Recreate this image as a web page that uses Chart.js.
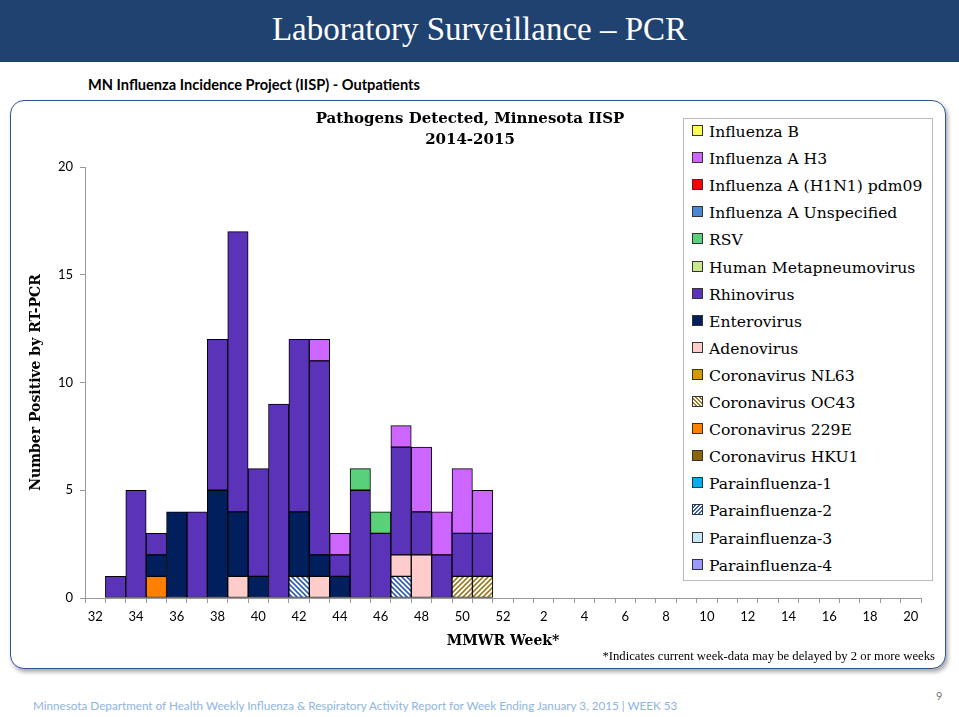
<!DOCTYPE html>
<html>
<head>
<meta charset="utf-8">
<script src="https://cdn.jsdelivr.net/npm/chart.js@4.4.1/dist/chart.umd.min.js"></script>
<style>
  html, body { margin: 0; padding: 0; background: #fff; }
  body { width: 959px; height: 717px; position: relative; overflow: hidden; }
  #band { position: absolute; left: 0; top: 0; width: 959px; height: 62px; background: #1f4270; }
  #band h1 { margin: 0; position: absolute; left: 0; width: 959px; top: 9px; text-align: center; color: #fff;
    font-family: "Liberation Serif", serif; font-weight: normal; font-size: 33px; line-height: 40px; }
  #sub { position: absolute; left: 88px; top: 76px; font-family: Lato, sans-serif; font-weight: bold; font-size: 14.6px; color: #000; }
  #box { position: absolute; left: 10px; top: 100px; width: 934px; height: 567px; border: 1.5px solid #2f5597;
    border-radius: 14px; box-shadow: 2px 3px 4px rgba(0,0,0,0.35); background: #fff; }
  #chartWrap { position: absolute; left: 10px; top: 100px; width: 936px; height: 569px; }
  #ctitle { position: absolute; left: 270px; width: 400px; top: 108px; text-align: center; font-family: "DejaVu Serif", serif;
    font-weight: bold; font-size: 15px; line-height: 21px; color: #000; }
  #legend { position: absolute; left: 683px; top: 118px; width: 248px; height: 461px; border: 1px solid #bbb; background: #fff; }
  .li { position: absolute; left: 8px; height: 20px; font-family: "DejaVu Serif", serif; font-size: 15.6px; line-height: 20px; color: #000; white-space: nowrap; }
  .sw { display: inline-block; width: 9px; height: 9px; border: 1px solid #333; margin-right: 6px; vertical-align: 1px; }
  #foot { position: absolute; right: 24px; top: 649px; font-family: "Liberation Serif", serif; font-size: 12.7px; color: #000; }
  #footer { position: absolute; left: 33px; top: 698px; font-family: Lato, sans-serif; font-size: 11.7px; color: #8eb4e3; }
  #pnum { position: absolute; left: 936px; top: 689px; font-family: Lato, sans-serif; font-size: 11px; color: #777; }
</style>
</head>
<body>
<div id="band"><h1>Laboratory Surveillance – PCR</h1></div>
<div id="sub">MN Influenza Incidence Project (IISP) - Outpatients</div>
<div id="box"></div>
<div id="chartWrap"><canvas id="c" width="936" height="569"></canvas></div>
<div id="ctitle">Pathogens Detected, Minnesota IISP<br>2014-2015</div>
<div id="legend"></div>
<div id="foot">*Indicates current week-data may be delayed by 2 or more weeks</div>
<div id="footer">Minnesota Department of Health Weekly Influenza &amp; Respiratory Activity Report for Week Ending January 3, 2015 | WEEK 53</div>
<div id="pnum">9</div>
<script>
// MMWR weeks (categories)
const weeks = [32,33,34,35,36,37,38,39,40,41,42,43,44,45,46,47,48,49,50,51,52,1,2,3,4,5,6,7,8,9,10,11,12,13,14,15,16,17,18,19,20];

// Series values, one per week (legend order)
const influenzaB      = [0,0,0,0,0,0,0,0,0,0,0,0,0,0,0,0,0,0,0,0,0,0,0,0,0,0,0,0,0,0,0,0,0,0,0,0,0,0,0,0,0];
const influenzaAH3    = [0,0,0,0,0,0,0,0,0,0,0,1,1,0,0,1,3,2,3,2,0,0,0,0,0,0,0,0,0,0,0,0,0,0,0,0,0,0,0,0,0];
const influenzaAH1N1  = [0,0,0,0,0,0,0,0,0,0,0,0,0,0,0,0,0,0,0,0,0,0,0,0,0,0,0,0,0,0,0,0,0,0,0,0,0,0,0,0,0];
const influenzaAUnsp  = [0,0,0,0,0,0,0,0,0,0,0,0,0,0,0,0,0,0,0,0,0,0,0,0,0,0,0,0,0,0,0,0,0,0,0,0,0,0,0,0,0];
const rsv             = [0,0,0,0,0,0,0,0,0,0,0,0,0,1,1,0,0,0,0,0,0,0,0,0,0,0,0,0,0,0,0,0,0,0,0,0,0,0,0,0,0];
const hmpv            = [0,0,0,0,0,0,0,0,0,0,0,0,0,0,0,0,0,0,0,0,0,0,0,0,0,0,0,0,0,0,0,0,0,0,0,0,0,0,0,0,0];
const rhinovirus      = [0,1,5,1,0,4,7,13,5,9,8,9,1,5,3,5,2,2,2,2,0,0,0,0,0,0,0,0,0,0,0,0,0,0,0,0,0,0,0,0,0];
const enterovirus     = [0,0,0,1,4,0,5,3,1,0,3,1,1,0,0,0,0,0,0,0,0,0,0,0,0,0,0,0,0,0,0,0,0,0,0,0,0,0,0,0,0];
const adenovirus      = [0,0,0,0,0,0,0,1,0,0,0,1,0,0,0,1,2,0,0,0,0,0,0,0,0,0,0,0,0,0,0,0,0,0,0,0,0,0,0,0,0];
const coronaNL63      = [0,0,0,0,0,0,0,0,0,0,0,0,0,0,0,0,0,0,0,0,0,0,0,0,0,0,0,0,0,0,0,0,0,0,0,0,0,0,0,0,0];
const coronaOC43      = [0,0,0,0,0,0,0,0,0,0,0,0,0,0,0,0,0,0,1,1,0,0,0,0,0,0,0,0,0,0,0,0,0,0,0,0,0,0,0,0,0];
const corona229E      = [0,0,0,1,0,0,0,0,0,0,0,0,0,0,0,0,0,0,0,0,0,0,0,0,0,0,0,0,0,0,0,0,0,0,0,0,0,0,0,0,0];
const coronaHKU1      = [0,0,0,0,0,0,0,0,0,0,0,0,0,0,0,0,0,0,0,0,0,0,0,0,0,0,0,0,0,0,0,0,0,0,0,0,0,0,0,0,0];
const parainfluenza1  = [0,0,0,0,0,0,0,0,0,0,0,0,0,0,0,0,0,0,0,0,0,0,0,0,0,0,0,0,0,0,0,0,0,0,0,0,0,0,0,0,0];
const parainfluenza2  = [0,0,0,0,0,0,0,0,0,0,1,0,0,0,0,1,0,0,0,0,0,0,0,0,0,0,0,0,0,0,0,0,0,0,0,0,0,0,0,0,0];
const parainfluenza3  = [0,0,0,0,0,0,0,0,0,0,0,0,0,0,0,0,0,0,0,0,0,0,0,0,0,0,0,0,0,0,0,0,0,0,0,0,0,0,0,0,0];
const parainfluenza4  = [0,0,0,0,0,0,0,0,0,0,0,0,0,0,0,0,0,0,0,0,0,0,0,0,0,0,0,0,0,0,0,0,0,0,0,0,0,0,0,0,0];

const seriesNames = ['Influenza B','Influenza A H3','Influenza A (H1N1) pdm09','Influenza A Unspecified','RSV',
  'Human Metapneumovirus','Rhinovirus','Enterovirus','Adenovirus','Coronavirus NL63','Coronavirus OC43',
  'Coronavirus 229E','Coronavirus HKU1','Parainfluenza-1','Parainfluenza-2','Parainfluenza-3','Parainfluenza-4'];
const seriesValues = [influenzaB, influenzaAH3, influenzaAH1N1, influenzaAUnsp, rsv, hmpv, rhinovirus, enterovirus,
  adenovirus, coronaNL63, coronaOC43, corona229E, coronaHKU1, parainfluenza1, parainfluenza2, parainfluenza3, parainfluenza4];
const seriesColors = ['#ffff55','#cc66ff','#ff0000','#4a86d8','#5ad07a','#c8e68a','#5a33b8','#001f5c','#ffcccc',
  '#d69a00','hatch:#9c7a22:1','#ff8000','#8b6508','#00b0f0','hatch:#2e5cb8:-1','#c6e6fa','#9999ff'];

function makeHatch(fg, dir) {
  const c = document.createElement('canvas'); c.width = 5; c.height = 5;
  const g = c.getContext('2d');
  g.fillStyle = '#fff'; g.fillRect(0, 0, 5, 5);
  g.strokeStyle = fg; g.lineWidth = 1.6;
  g.beginPath();
  if (dir > 0) {
    g.moveTo(-1, 6); g.lineTo(6, -1);
    g.moveTo(-1, 1); g.lineTo(1, -1);
    g.moveTo(4, 6); g.lineTo(6, 4);
  } else {
    g.moveTo(-1, -1); g.lineTo(6, 6);
    g.moveTo(-1, 4); g.lineTo(1, 6);
    g.moveTo(4, -1); g.lineTo(6, 1);
  }
  g.stroke();
  return g.createPattern(c, 'repeat');
}
function fillFor(spec) {
  if (spec.startsWith('hatch:')) { const p = spec.split(':'); return makeHatch(p[1], +p[2]); }
  return spec;
}
function cssFor(spec) {
  if (spec.startsWith('hatch:')) {
    const p = spec.split(':');
    const ang = +p[2] > 0 ? '45deg' : '-45deg';
    return 'repeating-linear-gradient(' + ang + ', #fff 0 1.5px, ' + p[1] + ' 1.5px 3px)';
  }
  return spec;
}

// Stack from bottom: reverse of legend order
const datasets = [];
for (let i = seriesNames.length - 1; i >= 0; i--) {
  datasets.push({
    label: seriesNames[i],
    data: seriesValues[i].map(v => v === 0 ? null : v),
    backgroundColor: fillFor(seriesColors[i]),
    borderColor: '#000',
    borderWidth: 1,
    borderSkipped: false,
    barPercentage: 1.0,
    categoryPercentage: 1.0,
    stack: 's'
  });
}

const chart = new Chart(document.getElementById('c'), {
  type: 'bar',
  data: { labels: weeks.map(String), datasets },
  options: {
    responsive: false,
    animation: false,
    layout: { padding: { left: 10, right: 25, top: 67, bottom: 11 } },
    plugins: { legend: { display: false }, title: { display: false }, tooltip: { enabled: false } },
    scales: {
      x: {
        stacked: true,
        offset: true,
        grid: { display: true, offset: true, drawOnChartArea: false, drawTicks: true, tickLength: 5, color: '#999' },
        border: { display: true, color: '#999' },
        ticks: {
          autoSkip: false, maxRotation: 0, padding: 6, color: '#000',
          font: { family: 'Lato, sans-serif', size: 13 },
          callback: (v, idx) => idx % 2 === 0 ? String(weeks[idx]) : ''
        },
        title: { display: true, text: 'MMWR Week*', color: '#000', padding: { top: 6, bottom: 8 },
          font: { family: '"DejaVu Serif", serif', size: 14, weight: 'bold' } },
        afterFit: s => { s.height = 60; }
      },
      y: {
        stacked: true,
        min: 0, max: 20,
        grid: { display: true, drawOnChartArea: false, drawTicks: true, tickLength: 5, color: '#999' },
        border: { display: true, color: '#999' },
        ticks: { stepSize: 5, padding: 7, color: '#000', font: { family: 'Lato, sans-serif', size: 13 } },
        title: { display: true, text: 'Number Positive by RT-PCR', color: '#000', padding: { top: 8, bottom: 4 },
          font: { family: '"DejaVu Serif", serif', size: 14, weight: 'bold' } },
        afterFit: s => { s.width = 65; }
      }
    }
  }
});

// HTML legend built from the chart's datasets (legend order = reversed stack order)
const leg = document.getElementById('legend');
const ds = chart.data.datasets.slice().reverse();
ds.forEach((d, k) => {
  const idx = seriesNames.indexOf(d.label);
  const el = document.createElement('div');
  el.className = 'li';
  el.style.top = (3 + k * 27.1) + 'px';
  const sw = document.createElement('span');
  sw.className = 'sw';
  sw.style.background = cssFor(seriesColors[idx]);
  el.appendChild(sw);
  el.appendChild(document.createTextNode(d.label));
  leg.appendChild(el);
});
</script>
</body>
</html>
